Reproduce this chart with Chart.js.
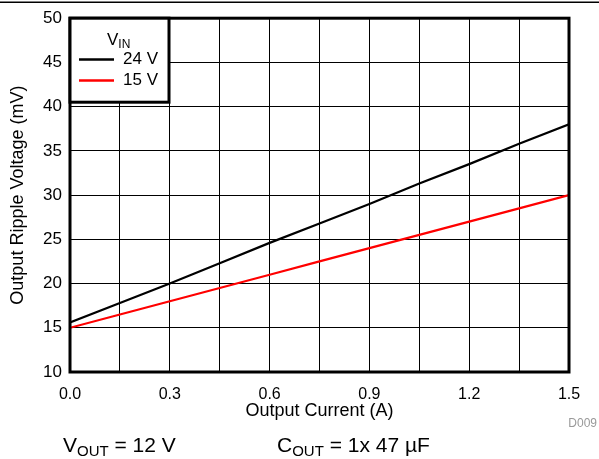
<!DOCTYPE html>
<html>
<head>
<meta charset="utf-8">
<script src="https://cdn.jsdelivr.net/npm/chart.js@4/dist/chart.umd.min.js"></script>
<style>
  html, body { margin: 0; padding: 0; background: #fff; }
  #wrap { position: relative; width: 599px; height: 459px; }
  canvas { display: block; }
</style>
</head>
<body>
<div id="wrap"><canvas id="c" width="599" height="459"></canvas></div>
<script>
// Data
const outputCurrent = [0, 0.15, 0.3, 0.45, 0.6, 0.75, 0.9, 1.05, 1.2, 1.35, 1.5];
const ripple24V = [15.6, 17.8, 20.0, 22.3, 24.6, 26.8, 29.0, 31.3, 33.5, 35.8, 38.0];
const ripple15V = [15.0, 16.5, 18.0, 19.5, 21.0, 22.5, 24.0, 25.5, 27.0, 28.5, 30.0];
const seriesLabels = ['24 V', '15 V'];
const legendTitle = ['V', 'IN'];
const xTickLabels = ['0.0', '0.3', '0.6', '0.9', '1.2', '1.5'];
const footnotes = [
  { main: 'V', sub: 'OUT', rest: ' = 12 V' },
  { main: 'C', sub: 'OUT', rest: ' = 1x 47 µF' }
];
const docId = 'D009';

const FONT = '"Liberation Sans", Arial, sans-serif';

const toPts = (xs, ys) => xs.map((x, i) => ({ x: x, y: ys[i] }));

const decorPlugin = {
  id: 'decor',
  afterDatasetsDraw(chart) {
    const ctx = chart.ctx;
    const a = chart.chartArea;
    ctx.save();
    // top rule
    ctx.strokeStyle = '#000';
    ctx.lineWidth = 1.5;
    ctx.beginPath();
    ctx.moveTo(0, 2.25);
    ctx.lineTo(599, 2.25);
    ctx.stroke();
    // plot frame
    ctx.lineWidth = 3;
    ctx.strokeRect(a.left, a.top, a.right - a.left, a.bottom - a.top);

    // legend box
    const bx = a.left, by = a.top, bw = 99, bh = 84;
    ctx.fillStyle = '#fff';
    ctx.fillRect(bx, by, bw, bh);
    ctx.lineWidth = 3;
    ctx.strokeStyle = '#000';
    ctx.strokeRect(bx, by, bw, bh);

    ctx.fillStyle = '#000';
    ctx.textBaseline = 'alphabetic';
    ctx.font = '17px ' + FONT;
    ctx.fillText(legendTitle[0], 107, 44.5);
    const vw = ctx.measureText(legendTitle[0]).width;
    ctx.font = '12px ' + FONT;
    ctx.fillText(legendTitle[1], 107 + vw, 48);

    chart.data.datasets.forEach((ds, i) => {
      const y = 59.5 + i * 21;
      ctx.strokeStyle = ds.borderColor;
      ctx.lineWidth = 2.5;
      ctx.beginPath();
      ctx.moveTo(79, y);
      ctx.lineTo(114, y);
      ctx.stroke();
      ctx.fillStyle = '#000';
      ctx.font = '17px ' + FONT;
      ctx.textBaseline = 'middle';
      ctx.fillText(ds.label, 123, y);
    });

    // document id
    ctx.fillStyle = '#999';
    ctx.font = '12px ' + FONT;
    ctx.textBaseline = 'alphabetic';
    ctx.textAlign = 'right';
    ctx.fillText(docId, 597, 427);
    ctx.textAlign = 'left';

    // footnotes
    const starts = [63, 277];
    footnotes.forEach((f, i) => {
      let x = starts[i];
      const base = 452;
      ctx.fillStyle = '#000';
      ctx.font = '21px ' + FONT;
      ctx.fillText(f.main, x, base);
      x += ctx.measureText(f.main).width;
      ctx.font = '15px ' + FONT;
      ctx.fillText(f.sub, x, base + 4);
      x += ctx.measureText(f.sub).width;
      ctx.font = '21px ' + FONT;
      ctx.fillText(f.rest, x, base);
    });
    ctx.restore();
  }
};

new Chart(document.getElementById('c'), {
  type: 'line',
  data: {
    datasets: [
      { label: seriesLabels[0], data: toPts(outputCurrent, ripple24V), borderColor: '#000000', backgroundColor: '#000000', borderWidth: 2.2, pointRadius: 0, tension: 0, fill: false },
      { label: seriesLabels[1], data: toPts(outputCurrent, ripple15V), borderColor: '#ff0000', backgroundColor: '#ff0000', borderWidth: 2.2, pointRadius: 0, tension: 0, fill: false }
    ]
  },
  options: {
    responsive: false,
    animation: false,
    devicePixelRatio: 1,
    layout: { padding: { left: 0, top: 17, right: 30, bottom: 37 } },
    plugins: { legend: { display: false }, tooltip: { enabled: false } },
    scales: {
      x: {
        type: 'linear',
        min: 0, max: 1.5,
        afterFit(scale) { scale.height = 50; },
        afterBuildTicks(scale) {
          scale.ticks = outputCurrent.map(v => ({ value: v }));
        },
        grid: { color: '#000', lineWidth: 1, drawTicks: false },
        border: { display: false },
        ticks: {
          autoSkip: false, maxRotation: 0, padding: 13,
          color: '#000', font: { family: FONT, size: 16 },
          callback(value, index) { return index % 2 === 0 ? xTickLabels[index / 2] : ''; }
        },
        title: { display: true, text: 'Output Current (A)', color: '#000', font: { family: FONT, size: 18 }, padding: { top: 0, bottom: 0 } }
      },
      y: {
        min: 10, max: 50,
        afterFit(scale) { scale.width = 70; },
        grid: { color: '#000', lineWidth: 1, drawTicks: false },
        border: { display: false },
        ticks: { stepSize: 5, padding: 8, color: '#000', font: { family: FONT, size: 17 } },
        title: { display: true, text: 'Output Ripple Voltage (mV)', color: '#000', font: { family: FONT, size: 18 }, padding: { top: 7, bottom: 0 } }
      }
    }
  },
  plugins: [decorPlugin]
});
</script>
</body>
</html>
